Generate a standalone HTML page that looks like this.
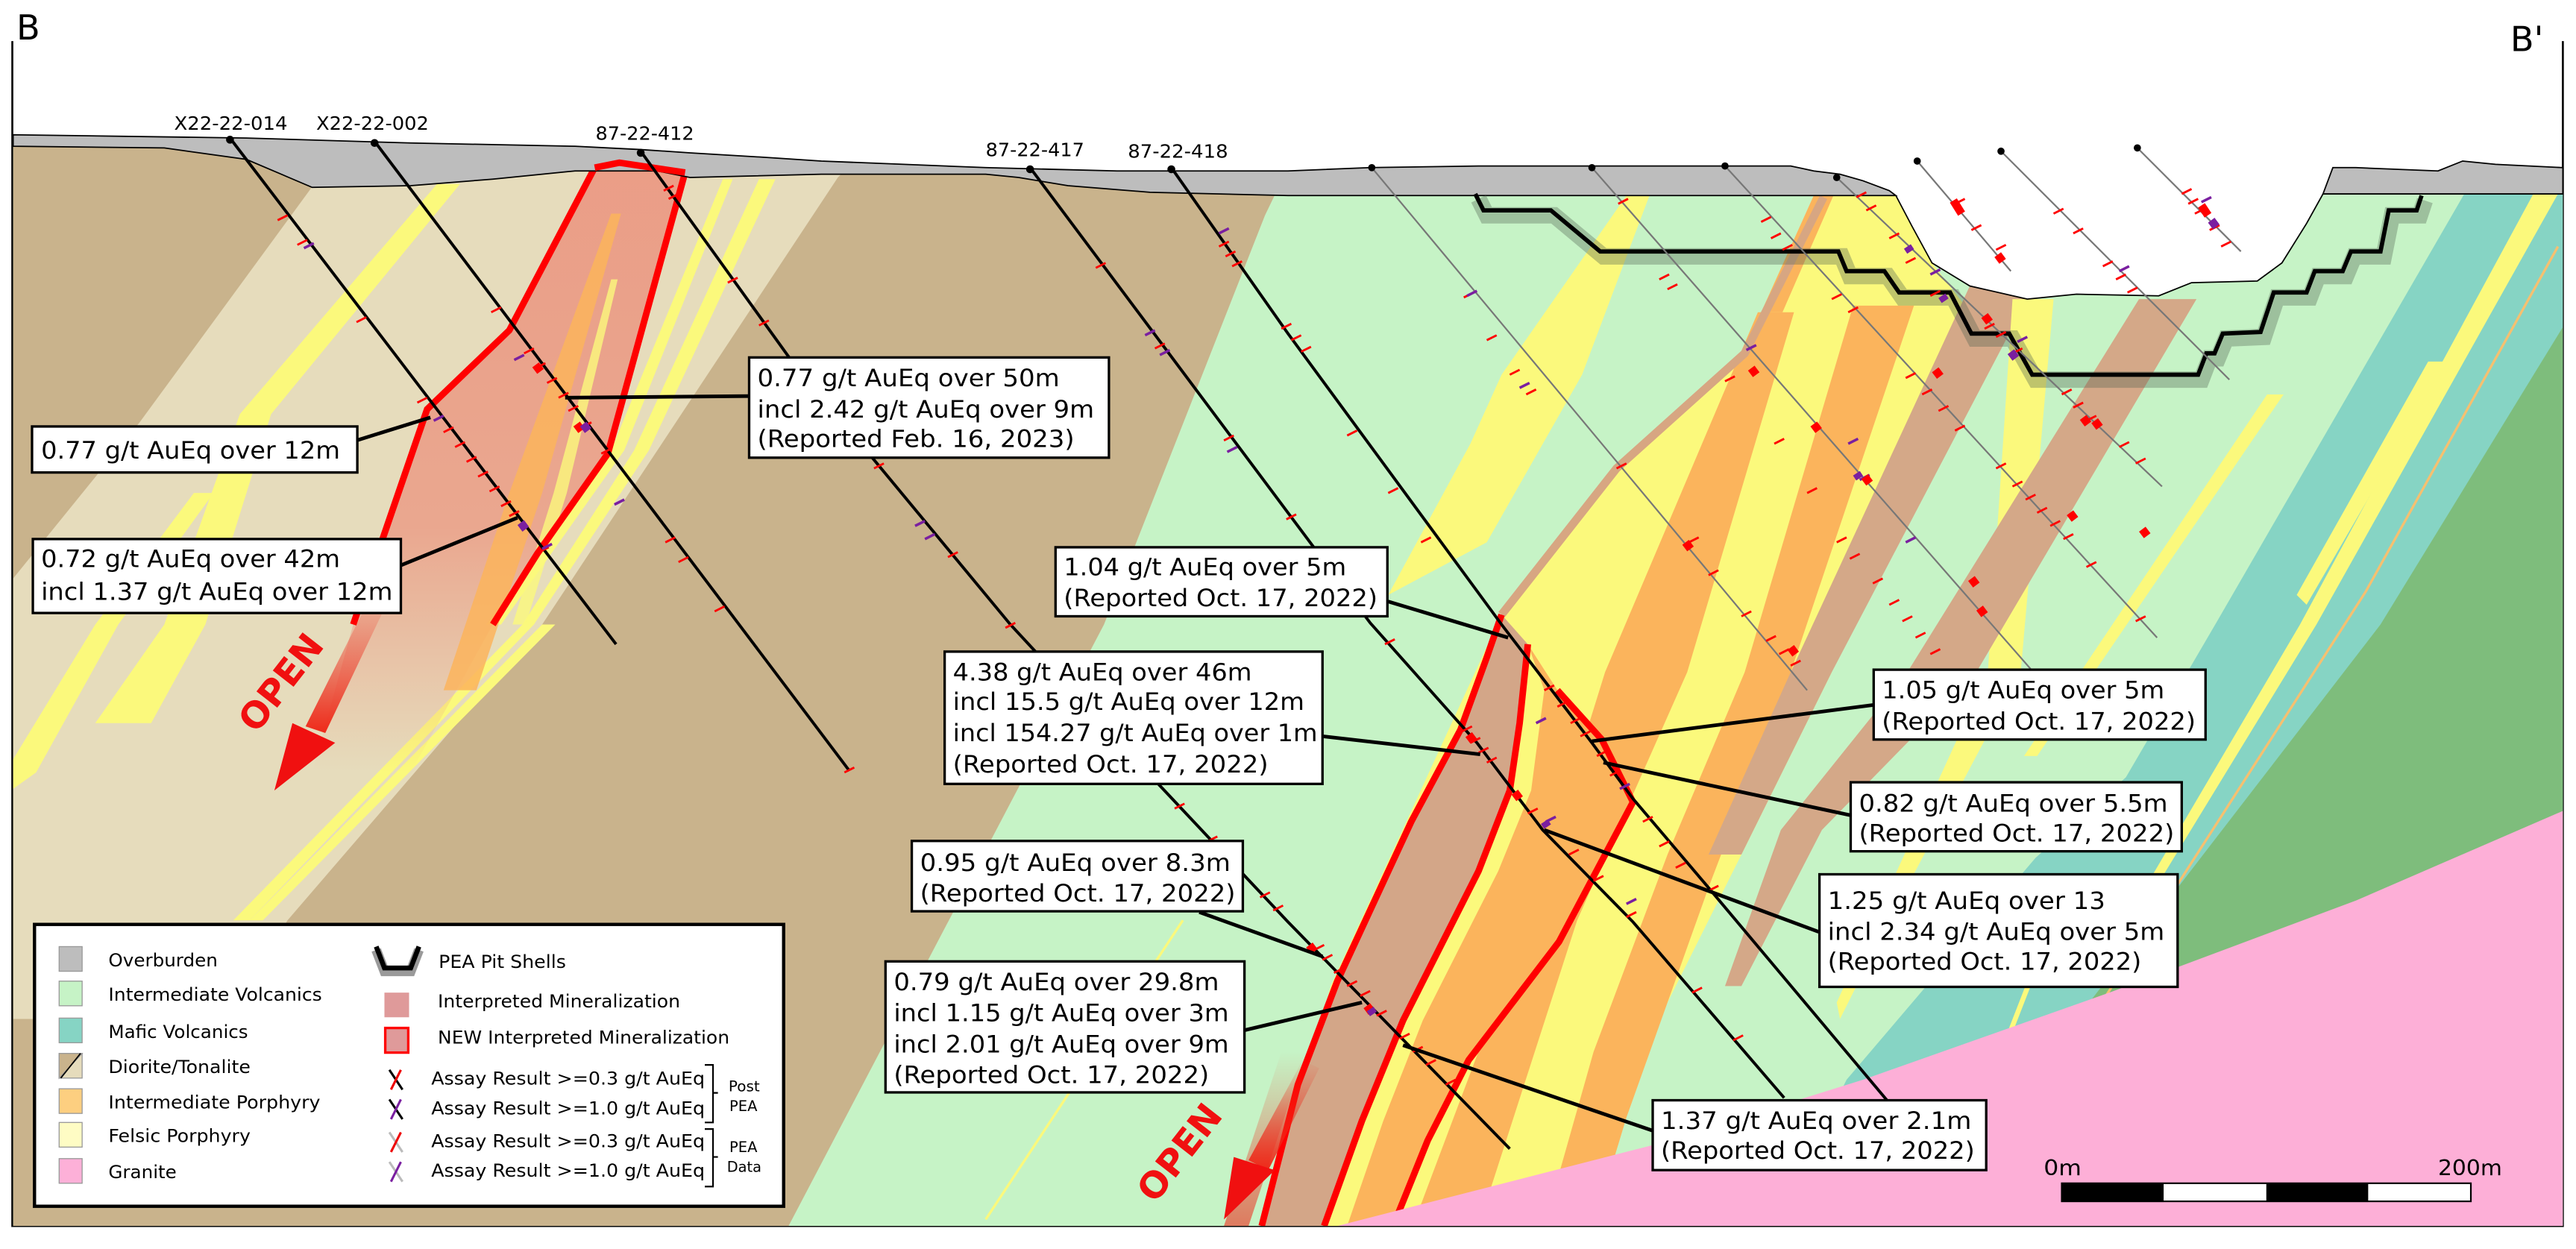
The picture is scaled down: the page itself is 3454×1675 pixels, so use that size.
<!DOCTYPE html>
<html><head><meta charset="utf-8"><style>
html,body{margin:0;padding:0;background:#fff;}
svg{display:block;}
text{font-family:"DejaVu Sans","Liberation Sans",sans-serif;fill:#000;}
</style></head><body>
<svg width="3454" height="1675" viewBox="0 0 1568 760" preserveAspectRatio="none" xmlns="http://www.w3.org/2000/svg">
<defs>
<clipPath id="g"><path d="M8,89 L100,90 150,97 190,114 250,113 300,109 350,104 400,104 420,108 500,106 600,106 620,108 650,113 700,117 784,119 1154,119 1164,138 1176,160 1199,174 1234,182 1264,179 1314,180 1334,172 1374,171 1389,160 1404,136 1414,118 1560,118 1560,746 8,746Z"/></clipPath>
<linearGradient id="fa" x1="0" y1="0" x2="0" y2="1"><stop offset="0" stop-color="#ee2a1a" stop-opacity="0"/><stop offset="1" stop-color="#ee2a1a" stop-opacity="1"/></linearGradient>
<linearGradient id="fz" x1="0" y1="0" x2="0" y2="1"><stop offset="0" stop-color="#eb9a84" stop-opacity=".95"/><stop offset=".6" stop-color="#eb9a84" stop-opacity=".8"/><stop offset="1" stop-color="#eb9a84" stop-opacity="0"/></linearGradient>
</defs>

<path d="M7.5,25 V746 H1560 V25" fill="none" stroke="#000" stroke-width="1.2"/>
<text x="10" y="24" font-size="21">B</text>
<text x="1528" y="31" font-size="21">B'</text>

<g clip-path="url(#g)">
<rect x="0" y="80" width="1568" height="680" fill="#c6f3c6"/>
<polygon points="0,80 790,80 785,100 770,131 672,380 480,746 0,746" fill="#c9b38c"/>
<polygon points="200,100 518,100 510,108 330,380 175,560 140,620 8,620 8,352 85,257" fill="#e6dcbc"/>
<polygon points="266,112 280,112 165,252 125,380 92,440 58,440 100,380 146,252" fill="#fbf97c"/>
<polygon points="118,300 130,300 72,380 22,470 8,480 8,462 58,380" fill="#fbf97c"/>
<polygon points="462,109 472,109 395,274 325,380 152,560 142,560 318,380 386,274" fill="#fbf97c"/>
<polygon points="440,109 446,109 380,274 305,380 296,380 372,274" fill="#fbf97c"/>
<polygon points="330,380 338,380 160,560 152,560" fill="#fbf97c"/>
<polygon points="362,102 377,99 417,105 370,276 327,337 300,380 250,470 190,470 215,380 260,249 310,201" fill="url(#fz)"/>
<polygon points="372,130 378,130 330,300 290,420 270,420 310,300" fill="#fbb45c" opacity=".85"/>
<polygon points="372,170 376,170 345,300 320,380 312,380 337,300" fill="#fbf97c" opacity=".8"/>
<path d="M215,380 L260,249 310,201 362,102 377,99 417,105 370,276 327,337 300,380" fill="none" stroke="#f00" stroke-width="4" stroke-linejoin="miter"/>
<polygon points="1500,118 1560,118 1560,746 1080,746 1124,657 1239,522 1294,473 1349,379" fill="#86d4c4"/>
<polygon points="1542,118 1557,118 1410,380 1300,560 1294,560 1400,380" fill="#fbf97c"/>
<polygon points="1560,199 1449,380 1254,633 1560,633" fill="#7ebd7c"/>
<path d="M1557,150 L1440,360 1260,640" stroke="#f6c070" stroke-width="1.5" fill="none"/>
<path d="M1250,560 L1215,650" stroke="#fbf97c" stroke-width="3" fill="none"/>
<polygon points="1478,220 1490,220 1404,368 1398,362" fill="#fbf97c"/>
<polygon points="990,119 1004,119 963,228 905,330 845,362 895,270 914,228" fill="#fbf97c"/>
<path d="M720,560 L600,742" stroke="#fbf97c" stroke-width="1.5"/>
<polygon points="1108,119 1154,119 1164,138 1176,160 1196,186 1150,280 1115,409 1060,520 1000,640 960,746 770,746 810,600 914,374 984,285 1062,215" fill="#fbf97c"/>
<polygon points="1070,190 1092,190 1027,409 960,560 900,746 860,746 930,560 977,409" fill="#fbb45c"/>
<polygon points="1128,186 1165,186 1090,409 1040,540 990,680 970,746 940,746 970,640 1015,520 1062,409" fill="#fbb45c"/>
<polygon points="1104,119 1116,119 1085,190 1072,190" fill="#fbb45c"/>
<polygon points="1199,174 1234,182 1115,409 1060,520 1040,520 1090,409" fill="#d4a888"/>
<polygon points="1225,182 1250,182 1230,409 1150,560 1120,620 1118,610 1210,409" fill="#fbf97c"/>
<polygon points="1302,182 1337,182 1203,409 1109,505 1060,600 1050,600 1084,505 1161,409" fill="#d4a888"/>
<polygon points="1380,240 1390,240 1240,460 1232,460" fill="#fbf97c"/>
<polyline points="1110,120 1062,215 984,285 914,374" fill="none" stroke="#d7a682" stroke-width="5"/>
<polygon points="914,374 905,400 889,444 859,500 814,597 790,660 768,746 806,746 829,682 854,621 900,530 919,481 925,440 930,392" fill="#d3a688"/>
<polygon points="930,392 948,420 975,450 994,488 949,573 894,645 869,694 848,746 806,746 829,682 854,621 900,530 919,481 925,440" fill="#fbb45c"/>
<polygon points="930,392 940,420 932,481 912,530 866,621 842,682 820,746 806,746 829,682 854,621 900,530 919,481 925,440" fill="#fbf97c"/>
<g fill="none" stroke="#f00" stroke-width="4">
<polyline points="914,374 905,400 889,444 859,500 814,597 790,660 768,746"/>
<polyline points="930,392 925,440 919,481 900,530 854,621 829,682 806,746"/>
<polyline points="948,420 975,450 994,488 949,573 894,645 869,694 848,746"/>
</g>
<polygon points="780,640 795,640 760,746 745,746" fill="url(#fa)" opacity=".6"/>
<polygon points="814,746 1009,696 1134,657 1284,604 1434,548 1561,493 1561,746" fill="#fdafd7"/>
</g>

<path d="M8,82 L150,84 250,87 350,89 390,91 420,93 470,96 500,98 600,102 680,104 784,104 834,102 900,101 1000,101 1050,101 1090,101 1104,104 1120,106 1134,110 1150,116 1154,119 L784,119 700,117 650,113 620,108 600,106 500,106 420,108 400,104 350,104 300,109 250,113 190,114 150,97 100,90 8,89Z" fill="#bdbdbd" stroke="#000" stroke-width=".8"/>
<path d="M1414,118 L1420,102 1434,102 1484,104 1499,98 1519,100 1560,102 1560,118Z" fill="#bdbdbd" stroke="#000" stroke-width=".8"/>
<path d="M1154,119 L1164,138 1176,160 1199,174 1234,182 1264,179 1314,180 1334,172 1374,171 1389,160 1404,136 1414,118" fill="none" stroke="#000" stroke-width=".8"/>
<path d="M362,102 L377,99 417,105" fill="none" stroke="#f00" stroke-width="4"/>

<g fill="none" stroke-linejoin="miter">
<polyline points="898,118 903,128 944,128 974,153 1119,153 1124,165 1147,165 1156,178 1187,178 1200,203 1223,203 1237,228 1338,228 1343,215 1348,215 1353,203 1376,202 1384,178 1404,178 1409,165 1426,165 1431,153 1449,153 1454,128 1471,128 1474,119" stroke="#506050" stroke-opacity=".35" stroke-width="10" transform="translate(2,3)"/>
<polyline points="898,118 903,128 944,128 974,153 1119,153 1124,165 1147,165 1156,178 1187,178 1200,203 1223,203 1237,228 1338,228 1343,215 1348,215 1353,203 1376,202 1384,178 1404,178 1409,165 1426,165 1431,153 1449,153 1454,128 1471,128 1474,119" stroke="#000" stroke-width="2.6"/>
</g>

<g stroke="#777" stroke-width="1" fill="none">
<path d="M835,102 L1100,420"/>
<path d="M969,102 L1236,407"/>
<path d="M1050,101 L1313,388"/>
<path d="M1118,108 L1316,296"/>
<path d="M1167,98 L1224,165"/>
<path d="M1218,92 L1357,231"/>
<path d="M1301,90 L1364,153"/>
</g>
<g fill="#000"><circle cx="835" cy="102" r="2.2"/><circle cx="969" cy="102" r="2.2"/><circle cx="1050" cy="101" r="2.2"/><circle cx="1118" cy="108" r="2.2"/><circle cx="1167" cy="98" r="2.2"/><circle cx="1218" cy="92" r="2.2"/><circle cx="1301" cy="90" r="2.2"/></g>

<g stroke="#000" stroke-width="1.8" fill="none">
<path d="M140,84 L375,392"/>
<path d="M228,86 L517,469"/>
<polyline points="390,92 480,217 615,380 705,477 784,561 919,699"/>
<polyline points="627,102 784,312 834,379 899,452 939,505 994,561 1086,668"/>
<polyline points="713,102 784,203 914,380 969,452 994,486 1039,539 1149,670"/>
</g>
<g fill="#000"><circle cx="140" cy="85" r="2.4"/><circle cx="228" cy="87" r="2.4"/><circle cx="390" cy="93" r="2.4"/><circle cx="627" cy="103" r="2.4"/><circle cx="713" cy="103" r="2.4"/></g>

<path stroke="#f00" stroke-width="1.3" fill="none" d="M169,134 l6,-3 M181,149 l6,-3 M217,196 l6,-3 M254,245 l6,-3 M270,263 l6,-3 M277,272 l6,-3 M284,281 l6,-3 M291,290 l6,-3 M298,299 l6,-3 M305,308 l6,-3 M310,314 l6,-3 M328,336 l6,-3
M299,190 l6,-3 M319,215 l6,-3 M326,224 l6,-3 M333,233 l6,-3 M340,242 l6,-3 M346,250 l6,-3 M354,260 l6,-3 M366,276 l6,-3 M404,116 l6,-3 M407,121 l6,-3 M443,172 l6,-3 M462,198 l6,-3 M532,285 l6,-3 M577,339 l6,-3 M612,382 l6,-3 M405,330 l6,-3 M413,342 l6,-3 M435,372 l6,-3 M514,470 l6,-3
M667,163 l6,-3 M703,212 l6,-3 M745,268 l6,-3 M783,316 l6,-3 M843,392 l6,-3 M890,445 l6,-3 M895,452 l6,-3 M900,458 l6,-3 M905,464 l6,-3 M930,495 l6,-3 M955,520 l6,-3 M970,536 l6,-3 M990,558 l6,-3 M1030,604 l6,-3 M1055,633 l6,-3
M742,150 l6,-3 M746,156 l6,-3 M750,162 l6,-3 M780,200 l6,-3 M786,207 l6,-3 M792,214 l6,-3 M820,265 l6,-3 M845,300 l6,-3 M865,330 l6,-3 M940,420 l6,-3 M948,430 l6,-3 M956,440 l6,-3 M962,448 l6,-3 M972,460 l6,-3 M980,472 l6,-3 M1000,500 l6,-3 M1010,515 l6,-3 M1020,528 l6,-3 M1040,542 l6,-3
M715,492 l6,-3 M735,512 l6,-3 M767,546 l6,-3 M775,554 l6,-3 M800,578 l6,-3 M805,584 l6,-3 M812,592 l6,-3 M820,600 l6,-3 M828,606 l6,-3 M838,618 l6,-3 M852,632 l6,-3 M860,640 l6,-3 M868,648 l6,-3 M880,660 l6,-3
M891,181 l6,-3 M905,207 l6,-3 M919,228 l6,-3 M929,240 l6,-3 M984,285 l6,-3 M1028,330 l6,-3 M1040,350 l6,-3 M1060,375 l6,-3 M1075,390 l6,-3 M1083,398 l6,-3 M1090,405 l6,-3
M985,124 l6,-3 M1010,170 l6,-3 M1015,176 l6,-3 M1050,232 l6,-3 M1080,270 l6,-3 M1100,300 l6,-3 M1118,330 l6,-3 M1126,340 l6,-3 M1140,355 l6,-3 M1150,368 l6,-3 M1158,378 l6,-3 M1166,388 l6,-3 M1175,398 l6,-3
M1072,135 l6,-3 M1078,145 l6,-3 M1085,152 l6,-3 M1115,182 l6,-3 M1125,190 l6,-3 M1160,230 l6,-3 M1170,240 l6,-3 M1180,250 l6,-3 M1190,262 l6,-3 M1215,285 l6,-3 M1225,296 l6,-3 M1233,304 l6,-3 M1240,312 l6,-3 M1248,320 l6,-3 M1256,328 l6,-3 M1270,345 l6,-3 M1300,378 l6,-3
M1130,120 l6,-3 M1136,128 l6,-3 M1150,145 l6,-3 M1160,160 l6,-3 M1175,180 l6,-3 M1208,200 l6,-3 M1215,205 l6,-3 M1225,215 l6,-3 M1255,240 l6,-3 M1262,248 l6,-3 M1270,256 l6,-3 M1290,272 l6,-3 M1300,282 l6,-3
M1190,124 l6,-3 M1200,140 l6,-3 M1215,152 l6,-3 M1250,130 l6,-3 M1262,142 l6,-3 M1280,162 l6,-3 M1288,170 l6,-3 M1295,178 l6,-3 M1328,118 l6,-3 M1332,124 l6,-3 M1336,130 l6,-3 M1345,140 l6,-3 M1352,150 l6,-3"/>
<path stroke="#7a1fa0" stroke-width="1.6" fill="none" d="M185,151 l6,-3 M264,256 l6,-3 M313,219 l6,-3 M374,307 l6,-3 M330,334 l6,-3 M557,320 l6,-3 M563,328 l6,-3 M697,204 l6,-3 M706,216 l6,-3 M747,275 l6,-3 M742,142 l6,-3 M935,440 l6,-3 M941,500 l6,-3 M986,480 l6,-3 M990,550 l6,-3 M893,180 l6,-3 M925,236 l6,-3 M1063,213 l6,-3 M1132,292 l6,-3 M1160,330 l6,-3 M1125,270 l6,-3 M1290,165 l6,-3 M1340,123 l6,-3 M1228,208 l6,-3 M1175,167 l6,-3"/>
<path stroke="#f00" stroke-width="5" fill="none" d="M326,222 l3,4 M351,258 l3,4 M1026,330 l3,4 M1090,394 l3,4 M1178,225 l3,4 M1208,192 l3,4 M1189,122 l5,8 M1216,155 l3,4 M1268,254 l3,4 M1340,125 l4,6 M1200,352 l3,4 M1135,290 l3,4 M1104,258 l3,4 M1260,312 l3,4 M894,447 l3,4 M1066,224 l3,4 M922,482 l3,4 M797,575 l3,4 M832,612 l3,4 M1275,256 l3,4 M1304,322 l3,4 M1205,370 l3,4"/>
<path stroke="#7a1fa0" stroke-width="5" fill="none" d="M355,258 l3,4 M317,318 l3,4 M1130,288 l2,3 M1224,214 l3,4 M1161,150 l2,3 M1346,134 l3,4 M1182,180 l2,3 M834,614 l2,3 M940,500 l2,3"/>

<g font-size="11.2">
<text x="106" y="79" textLength="69" lengthAdjust="spacingAndGlyphs">X22-22-014</text>
<text x="192.5" y="79" textLength="68.5" lengthAdjust="spacingAndGlyphs">X22-22-002</text>
<text x="362.5" y="85" textLength="60" lengthAdjust="spacingAndGlyphs">87-22-412</text>
<text x="600" y="95" textLength="60" lengthAdjust="spacingAndGlyphs">87-22-417</text>
<text x="686.5" y="96" textLength="61" lengthAdjust="spacingAndGlyphs">87-22-418</text>
</g>

<polygon points="226,362 236,366 198,446 186,442" fill="url(#fa)"/>
<polygon points="167,481 178,440 204,452" fill="#f01010"/>
<text x="0" y="0" font-size="22" font-weight="bold" style="fill:#f01010" transform="translate(177,420) rotate(-52)" text-anchor="middle">OPEN</text>
<polygon points="793,645 803,650 772,712 760,706" fill="url(#fa)"/>
<polygon points="745,742 751,704 776,712" fill="#f01010"/>
<text x="0" y="0" font-size="22" font-weight="bold" style="fill:#f01010" transform="translate(724,706) rotate(-52)" text-anchor="middle">OPEN</text>

<g stroke="#000" stroke-width="2.2" fill="none">
<path d="M217,268 L262,254"/>
<path d="M244,344 L315,315"/>
<path d="M456,241 L344,242"/>
<path d="M845,366 L918,388"/>
<path d="M805,448 L901,459"/>
<path d="M1140,429 L969,451"/>
<path d="M1126,496 L976,464"/>
<path d="M1107,567 L940,505"/>
<path d="M730,555 L805,582"/>
<path d="M757,627 L829,610"/>
<path d="M1006,688 L854,636"/>
</g>

<g fill="#fff" stroke="#000" stroke-width="1.5">
<rect x="19.5" y="259.5" width="198" height="28"/>
<rect x="20" y="328" width="224" height="45"/>
<rect x="456" y="217.5" width="219" height="61"/>
<rect x="642.5" y="333" width="202" height="42"/>
<rect x="575" y="396.5" width="230" height="80.5"/>
<rect x="1140.5" y="407.5" width="202" height="42.5"/>
<rect x="1126.5" y="476" width="201.5" height="42"/>
<rect x="1107.5" y="532" width="218" height="68.5"/>
<rect x="555" y="511.7" width="201.5" height="42.8"/>
<rect x="539" y="585" width="218.5" height="79.7"/>
<rect x="1006" y="669.5" width="203" height="42.5"/>
</g>
<g font-size="14.5">
<text x="25" y="279" textLength="182" lengthAdjust="spacingAndGlyphs">0.77 g/t AuEq over 12m</text>
<text x="25" y="345" textLength="182" lengthAdjust="spacingAndGlyphs">0.72 g/t AuEq over 42m</text>
<text x="25" y="365" textLength="214" lengthAdjust="spacingAndGlyphs">incl 1.37 g/t AuEq over 12m</text>
<text x="461" y="235" textLength="184" lengthAdjust="spacingAndGlyphs">0.77 g/t AuEq over 50m</text>
<text x="461" y="254" textLength="205" lengthAdjust="spacingAndGlyphs">incl 2.42 g/t AuEq over 9m</text>
<text x="461" y="272" textLength="193" lengthAdjust="spacingAndGlyphs">(Reported Feb. 16, 2023)</text>
<text x="647.5" y="350" textLength="172" lengthAdjust="spacingAndGlyphs">1.04 g/t AuEq over 5m</text>
<text x="647.5" y="369" textLength="191" lengthAdjust="spacingAndGlyphs">(Reported Oct. 17, 2022)</text>
<text x="580" y="414" textLength="182" lengthAdjust="spacingAndGlyphs">4.38 g/t AuEq over 46m</text>
<text x="580" y="432" textLength="214" lengthAdjust="spacingAndGlyphs">incl 15.5 g/t AuEq over 12m</text>
<text x="580" y="451" textLength="222" lengthAdjust="spacingAndGlyphs">incl 154.27 g/t AuEq over 1m</text>
<text x="580" y="470" textLength="192" lengthAdjust="spacingAndGlyphs">(Reported Oct. 17, 2022)</text>
<text x="1145.5" y="425" textLength="172" lengthAdjust="spacingAndGlyphs">1.05 g/t AuEq over 5m</text>
<text x="1145.5" y="444" textLength="191" lengthAdjust="spacingAndGlyphs">(Reported Oct. 17, 2022)</text>
<text x="1131.5" y="494" textLength="188" lengthAdjust="spacingAndGlyphs">0.82 g/t AuEq over 5.5m</text>
<text x="1131.5" y="512" textLength="192" lengthAdjust="spacingAndGlyphs">(Reported Oct. 17, 2022)</text>
<text x="1112.5" y="553" textLength="169" lengthAdjust="spacingAndGlyphs">1.25 g/t AuEq over 13</text>
<text x="1112.5" y="572" textLength="205" lengthAdjust="spacingAndGlyphs">incl 2.34 g/t AuEq over 5m</text>
<text x="1112.5" y="590" textLength="191" lengthAdjust="spacingAndGlyphs">(Reported Oct. 17, 2022)</text>
<text x="560" y="530" textLength="189" lengthAdjust="spacingAndGlyphs">0.95 g/t AuEq over 8.3m</text>
<text x="560" y="548.5" textLength="192" lengthAdjust="spacingAndGlyphs">(Reported Oct. 17, 2022)</text>
<text x="544" y="602.5" textLength="198" lengthAdjust="spacingAndGlyphs">0.79 g/t AuEq over 29.8m</text>
<text x="544" y="621.5" textLength="204" lengthAdjust="spacingAndGlyphs">incl 1.15 g/t AuEq over 3m</text>
<text x="544" y="640.5" textLength="204" lengthAdjust="spacingAndGlyphs">incl 2.01 g/t AuEq over 9m</text>
<text x="544" y="659" textLength="192" lengthAdjust="spacingAndGlyphs">(Reported Oct. 17, 2022)</text>
<text x="1011" y="687" textLength="189" lengthAdjust="spacingAndGlyphs">1.37 g/t AuEq over 2.1m</text>
<text x="1011" y="705" textLength="191" lengthAdjust="spacingAndGlyphs">(Reported Oct. 17, 2022)</text>
</g>

<rect x="21" y="562.5" width="456" height="171.5" fill="#fff" stroke="#000" stroke-width="2"/>
<g stroke="#999" stroke-width=".6">
<rect x="36" y="576" width="14" height="15" fill="#bdbdbd"/>
<rect x="36" y="597" width="14" height="15" fill="#c6f3c6"/>
<rect x="36" y="619.5" width="14" height="15" fill="#86d4c4"/>
<rect x="36" y="641" width="14" height="15" fill="#e6dcbc"/>
<polygon points="36,641 50,641 36,656" fill="#c9b38c"/>
<rect x="36" y="662.5" width="14" height="15" fill="#fdcf80"/>
<rect x="36" y="683" width="14" height="15" fill="#fefcc4"/>
<rect x="36" y="705" width="14" height="15" fill="#fdb0d8"/>
</g>
<path d="M37,656 L49,641" stroke="#000" stroke-width=".8"/>
<g font-size="11">
<text x="66" y="588" textLength="66.5" lengthAdjust="spacingAndGlyphs">Overburden</text>
<text x="66" y="609" textLength="130" lengthAdjust="spacingAndGlyphs">Intermediate Volcanics</text>
<text x="66" y="631.5" textLength="85" lengthAdjust="spacingAndGlyphs">Mafic Volcanics</text>
<text x="66" y="653" textLength="86.5" lengthAdjust="spacingAndGlyphs">Diorite/Tonalite</text>
<text x="66" y="674.5" textLength="129" lengthAdjust="spacingAndGlyphs">Intermediate Porphyry</text>
<text x="66" y="695" textLength="86.5" lengthAdjust="spacingAndGlyphs">Felsic Porphyry</text>
<text x="66" y="717" textLength="41.5" lengthAdjust="spacingAndGlyphs">Granite</text>
<text x="267" y="589" textLength="77.5" lengthAdjust="spacingAndGlyphs">PEA Pit Shells</text>
<text x="266.5" y="613" textLength="147.5" lengthAdjust="spacingAndGlyphs">Interpreted Mineralization</text>
<text x="266.5" y="635" textLength="177.5" lengthAdjust="spacingAndGlyphs">NEW Interpreted Mineralization</text>
<text x="262.5" y="660" textLength="166.5" lengthAdjust="spacingAndGlyphs">Assay Result &gt;=0.3 g/t AuEq</text>
<text x="262.5" y="678" textLength="166.5" lengthAdjust="spacingAndGlyphs">Assay Result &gt;=1.0 g/t AuEq</text>
<text x="262.5" y="698" textLength="166.5" lengthAdjust="spacingAndGlyphs">Assay Result &gt;=0.3 g/t AuEq</text>
<text x="262.5" y="716" textLength="166.5" lengthAdjust="spacingAndGlyphs">Assay Result &gt;=1.0 g/t AuEq</text>
</g>
<g font-size="9">
<text x="443.5" y="664" textLength="19" lengthAdjust="spacingAndGlyphs">Post</text>
<text x="444" y="676" textLength="17" lengthAdjust="spacingAndGlyphs">PEA</text>
<text x="444" y="701" textLength="17" lengthAdjust="spacingAndGlyphs">PEA</text>
<text x="442.5" y="713" textLength="21" lengthAdjust="spacingAndGlyphs">Data</text>
</g>
<path d="M429,648 h5 v35 h-5 M434,665 h3 M429,687 h5 v35 h-5 M434,704 h3" fill="none" stroke="#000" stroke-width="1"/>
<path d="M229,576 L234,589 L250,589 L255,576" fill="none" stroke="#9a9a9a" stroke-width="6" transform="translate(0,2)"/>
<path d="M229,576 L234,589 L250,589 L255,576" fill="none" stroke="#000" stroke-width="3"/>
<rect x="234" y="604" width="15" height="15" fill="#df9a9a"/>
<rect x="234.5" y="625.5" width="14" height="15" fill="#df9a9a" stroke="#f00" stroke-width="1.5"/>
<g stroke-width="1.4">
<path d="M237,651 l8,12" stroke="#000"/><path d="M244,651 l-6,12" stroke="#e00"/>
<path d="M237,669 l8,12" stroke="#000"/><path d="M244,669 l-6,12" stroke="#7a1fa0"/>
<path d="M237,689 l8,12" stroke="#bbb"/><path d="M244,689 l-6,12" stroke="#e00"/>
<path d="M237,707 l8,12" stroke="#bbb"/><path d="M244,707 l-6,12" stroke="#7a1fa0"/>
</g>

<rect x="1255" y="720" width="249" height="11" fill="#fff" stroke="#000" stroke-width="1"/>
<rect x="1255" y="720" width="62" height="11" fill="#000"/>
<rect x="1379.5" y="720" width="62" height="11" fill="#000"/>
<text x="1244" y="715" font-size="13" textLength="23" lengthAdjust="spacingAndGlyphs">0m</text>
<text x="1484" y="715" font-size="13" textLength="39" lengthAdjust="spacingAndGlyphs">200m</text>
</svg>
</body></html>
